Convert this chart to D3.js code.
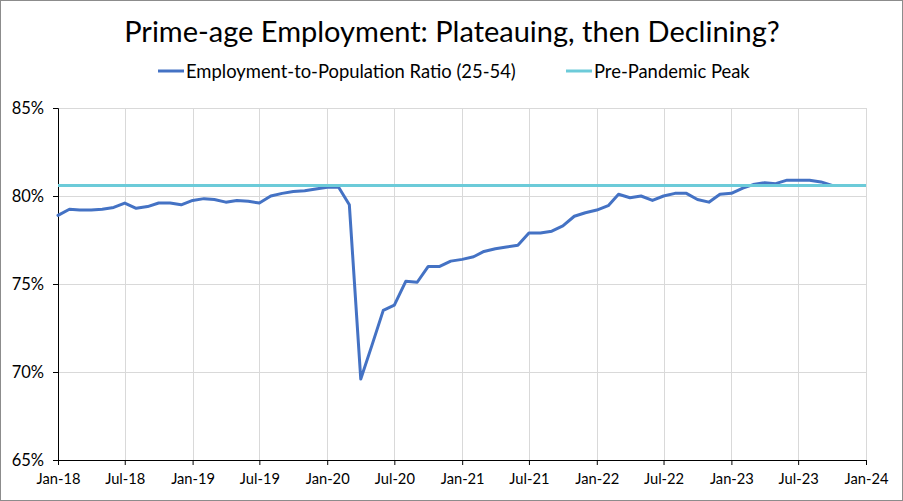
<!DOCTYPE html>
<html>
<head>
<meta charset="utf-8">
<script src="https://cdn.jsdelivr.net/npm/d3@7"></script>
<style>
  html, body { margin: 0; padding: 0; background: #fff; }
  svg { display: block; }
  text { font-family: Lato, "Open Sans", sans-serif; fill: #000; }
</style>
</head>
<body>
<svg id="chart" width="903" height="501"></svg>
<script>
// ---- data ----
const startMonth = "2018-01";
const epopValues = [
  78.9, 79.25, 79.2, 79.2, 79.25, 79.35, 79.6, 79.3, 79.4, 79.6, 79.6, 79.5,   // 2018
  79.75, 79.85, 79.8, 79.65, 79.75, 79.7, 79.6, 80.0, 80.15, 80.25, 80.3, 80.4, // 2019
  80.5, 80.5, 79.5, 69.6, 71.5, 73.5, 73.8, 75.15, 75.1, 76.0, 76.0, 76.3,     // 2020
  76.4, 76.55, 76.85, 77.0, 77.1, 77.2, 77.9, 77.9, 78.0, 78.3, 78.85, 79.05,  // 2021
  79.2, 79.45, 80.1, 79.9, 80.0, 79.75, 80.0, 80.15, 80.15, 79.8, 79.65, 80.1, // 2022
  80.15, 80.45, 80.65, 80.75, 80.7, 80.9, 80.9, 80.9, 80.8, 80.6               // 2023
];
const peakValue = 80.6;
const yTicks = [65, 70, 75, 80, 85];
const xTickLabels = ["Jan-18","Jul-18","Jan-19","Jul-19","Jan-20","Jul-20","Jan-21","Jul-21","Jan-22","Jul-22","Jan-23","Jul-23","Jan-24"];
const seriesNames = ["Employment-to-Population Ratio (25-54)", "Pre-Pandemic Peak"];
const titleText = "Prime-age Employment: Plateauing, then Declining?";

// ---- build ----
const parseMonth = d3.timeParse("%Y-%m");
const start = parseMonth(startMonth);
const epop = epopValues.map((v, i) => ({ date: d3.timeMonth.offset(start, i), value: v }));
const parseTick = d3.timeParse("%b-%y");
const xTickDates = xTickLabels.map(parseTick);

const W = 903, H = 501;
const m = { left: 58, right: 37, top: 108, bottom: 41 };
const svg = d3.select("#chart");

svg.append("rect").attr("x", 0.5).attr("y", 0.5).attr("width", W - 1).attr("height", H - 1)
  .attr("fill", "#fff").attr("stroke", "#8c8c8c").attr("stroke-width", 1);

const x = d3.scaleTime().domain([xTickDates[0], xTickDates[xTickDates.length - 1]]).range([m.left, W - m.right]);
const y = d3.scaleLinear().domain([65, 85]).range([H - m.bottom, m.top]);

// gridlines
const grid = svg.append("g");
grid.selectAll(".hg").data(yTicks).join("line")
  .attr("x1", m.left).attr("x2", W - m.right)
  .attr("y1", d => Math.round(y(d)) + 0.5).attr("y2", d => Math.round(y(d)) + 0.5)
  .attr("stroke", "#d9d9d9").attr("stroke-width", 1);
grid.selectAll(".vg").data(xTickDates).join("line")
  .attr("x1", d => Math.round(x(d)) + 0.5).attr("x2", d => Math.round(x(d)) + 0.5)
  .attr("y1", m.top).attr("y2", H - m.bottom)
  .attr("stroke", "#d9d9d9").attr("stroke-width", 1);

// axes
const xAxis = d3.axisBottom(x).tickValues(xTickDates).tickFormat(d3.timeFormat("%b-%y")).tickSize(5).tickPadding(9);
const gx = svg.append("g").attr("transform", `translate(0,${H - m.bottom})`).call(xAxis);
gx.select(".domain").attr("stroke", "#000");
gx.selectAll(".tick line").attr("stroke", "#000");
gx.selectAll("text").attr("font-size", 14.7).attr("font-family", "Lato, sans-serif").attr("fill", "#000");

const yAxis = d3.axisLeft(y).tickValues(yTicks).tickFormat(d => d + "%").tickSize(5).tickPadding(9);
const gy = svg.append("g").attr("transform", `translate(${m.left},0)`).call(yAxis);
gy.select(".domain").attr("stroke", "#000");
gy.selectAll(".tick line").attr("stroke", "#000");
gy.selectAll("text").attr("font-size", 16.5).attr("font-family", "Lato, sans-serif").attr("fill", "#000");

// series
const line = d3.line().x(d => x(d.date)).y(d => y(d.value));
svg.append("path").datum(epop).attr("d", line)
  .attr("fill", "none").attr("stroke", "#4472C4").attr("stroke-width", 3)
  .attr("stroke-linejoin", "round").attr("stroke-linecap", "round");

const peakData = x.domain().map(d => ({ date: d, value: peakValue }));
svg.append("path").datum(peakData).attr("d", line)
  .attr("fill", "none").attr("stroke", "#6CCBD9").attr("stroke-width", 3);

// title
svg.append("text").attr("x", 452).attr("y", 42).attr("text-anchor", "middle")
  .attr("font-size", 29).text(titleText);

// legend
const legendColors = ["#4472C4", "#6CCBD9"];
const legendX = [158, 566];
const lg = svg.append("g");
seriesNames.forEach((name, i) => {
  lg.append("line").attr("x1", legendX[i]).attr("x2", legendX[i] + 26)
    .attr("y1", 71).attr("y2", 71).attr("stroke", legendColors[i]).attr("stroke-width", 3);
  lg.append("text").attr("x", legendX[i] + 28).attr("y", 77.5).attr("font-size", 18.4).text(name);
});
</script>
</body>
</html>
